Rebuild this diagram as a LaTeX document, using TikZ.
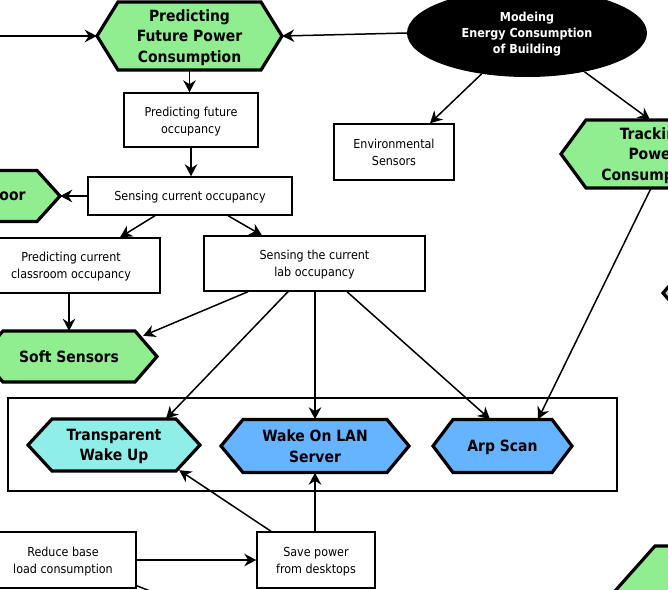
\documentclass[tikz,border=0pt]{standalone}
\usepackage{fontspec}
\usetikzlibrary{shapes.geometric,arrows.meta,calc}
\IfFontExistsTF{DejaVu Sans Condensed}{%
  \setmainfont{DejaVu Sans Condensed}%
  \newcommand\hexfont{\bfseries\fontsize{15.5}{20.5}\selectfont}%
  \newcommand\boxfont{\fontsize{12.4}{17}\selectfont}%
  \newcommand\ellfont{\bfseries\fontsize{12.4}{16}\selectfont}%
}{%
  \setmainfont{DejaVu Sans}%
  \newcommand\hexfont{\bfseries\fontsize{14}{20.5}\selectfont}%
  \newcommand\boxfont{\fontsize{11.2}{17}\selectfont}%
  \newcommand\ellfont{\bfseries\fontsize{11.2}{16}\selectfont}%
}
\definecolor{hgreen}{HTML}{90EE90}
\definecolor{hcyan}{HTML}{90EEE9}
\definecolor{hblue}{HTML}{66B3FF}
\tikzset{
  hexline/.style={line width=3.2pt, line join=miter},
  hextext/.style={inner sep=0pt, align=center, font=\hexfont, text depth=0pt},
  box/.style={draw, line width=1.4pt, fill=white, align=center, font=\boxfont, inner sep=0pt, text depth=0pt},
  grpbox/.style={draw, line width=1.4pt, inner sep=0pt},
  ell/.style={ellipse, fill=black, text=white, inner sep=0pt, align=center, font=\ellfont,
              minimum width=240, minimum height=88, text depth=0pt},
  conn/.style={line width=1.5pt, -{Stealth[length=12pt,width=12.5pt]}},
  plain/.style={line width=1.5pt}
}
\newcommand\hexa[8]{%
  \draw[hexline, fill=#7] ({#2-#4},#3) -- ({#2-#4+#6},{#3-#5}) -- ({#2+#4-#6},{#3-#5})
     -- ({#2+#4},#3) -- ({#2+#4-#6},{#3+#5}) -- ({#2-#4+#6},{#3+#5}) -- cycle;
  \node[hextext, minimum width={2*#4}, minimum height={2*#5}] (#1) at (#2,#3) {#8};%
}
\begin{document}
\begin{tikzpicture}[x=1pt, y=-1pt]
\useasboundingbox (0,0) rectangle (668,589);
\clip (0,0) rectangle (668,589);

% group frame
\node[grpbox, minimum width=609, minimum height=93] (grp) at (312.5,444.5) {};

% nodes
\hexa{pfpc}{189.5}{36}{92.5}{34}{21}{hgreen}{Predicting\\Future Power\\Consumption}
\node[ell] (meb) at (527,33) {Modeing\\Energy Consumption\\of Building};
\hexa{trk}{653}{154}{92}{34}{25}{hgreen}{Tracking\\Power\\Consumption}
\node[box, minimum width=134, minimum height=54] (pfo) at (191,120) {Predicting future\\occupancy};
\node[box, minimum width=120, minimum height=56] (env) at (394,152) {Environmental\\Sensors};
\node[box, minimum width=204, minimum height=38] (sco) at (190,196) {Sensing current occupancy};
\hexa{door}{12.5}{196}{47.5}{25.5}{23}{hgreen}{oor}
\node[box, minimum width=178, minimum height=55] (pcc) at (71,265.5) {Predicting current\\classroom occupancy};
\node[box, minimum width=221, minimum height=55] (lab) at (314.5,263.5) {Sensing the current\\lab occupancy};
\hexa{soft}{69}{356.5}{88}{25.5}{22}{hgreen}{Soft Sensors}
\hexa{twu}{114}{445}{86}{26}{24}{hcyan}{Transparent\\Wake Up}
\hexa{wol}{315}{446}{94}{26.5}{22}{hblue}{Wake On LAN\\Server}
\hexa{arp}{502.5}{446}{69.5}{26.5}{20}{hblue}{Arp Scan}
\node[box, minimum width=118, minimum height=56] (spd) at (316,560) {Save power\\from desktops};
\node[box, minimum width=146, minimum height=56] (rbl) at (63,560) {Reduce base\\load consumption};
\hexa{brh}{745}{600}{138}{54}{48}{hgreen}{}
\hexa{rmk}{720}{293}{57}{30}{26}{hgreen}{}

\coordinate (lin) at (-5,36);
\coordinate (offp) at (175,601);

% connectors
\draw[conn] (lin) -- (pfpc.west);
\draw[conn] (meb.west) -- (pfpc.east);
\draw[conn] (pfpc.south) -- (pfpc.south |- pfo.north);
\draw[conn] (meb.222) -- ([xshift=36]env.north);
\draw[conn] (meb.326) -- ([xshift=-3]trk.north);
\draw[conn] (pfo.south) -- (pfo.south |- sco.north);
\draw[conn] (sco.west) -- (door.east);
\draw[conn] ([xshift=-35]sco.south) -- ([xshift=49]pcc.north);
\draw[conn] ([xshift=38]sco.south) -- ([xshift=-52.5]lab.north);
\draw[conn] (soft.north |- pcc.south) -- (soft.north);
\draw[conn] ([xshift=-66.5]lab.south) -- ($(soft.north east)+(-14,5)$);
\draw[conn] ([xshift=-26.5]lab.south) -- ([xshift=52]twu.north);
\draw[conn] (wol.north |- lab.south) -- (wol.north);
\draw[conn] ([xshift=32.5]lab.south) -- ([xshift=-12.5]arp.north);
\draw[conn] ([xshift=-2]trk.south) -- ([xshift=35.5]arp.north);
\draw[conn] (wol.south |- spd.north) -- (wol.south);
\draw[conn] ([xshift=-45]spd.north) -- ($(twu.south east)+(-21,-1)$);
\draw[conn] (rbl.east) -- (spd.west);
\draw[plain] ([yshift=3]rbl.south east) -- (offp);
\end{tikzpicture}
\end{document}
